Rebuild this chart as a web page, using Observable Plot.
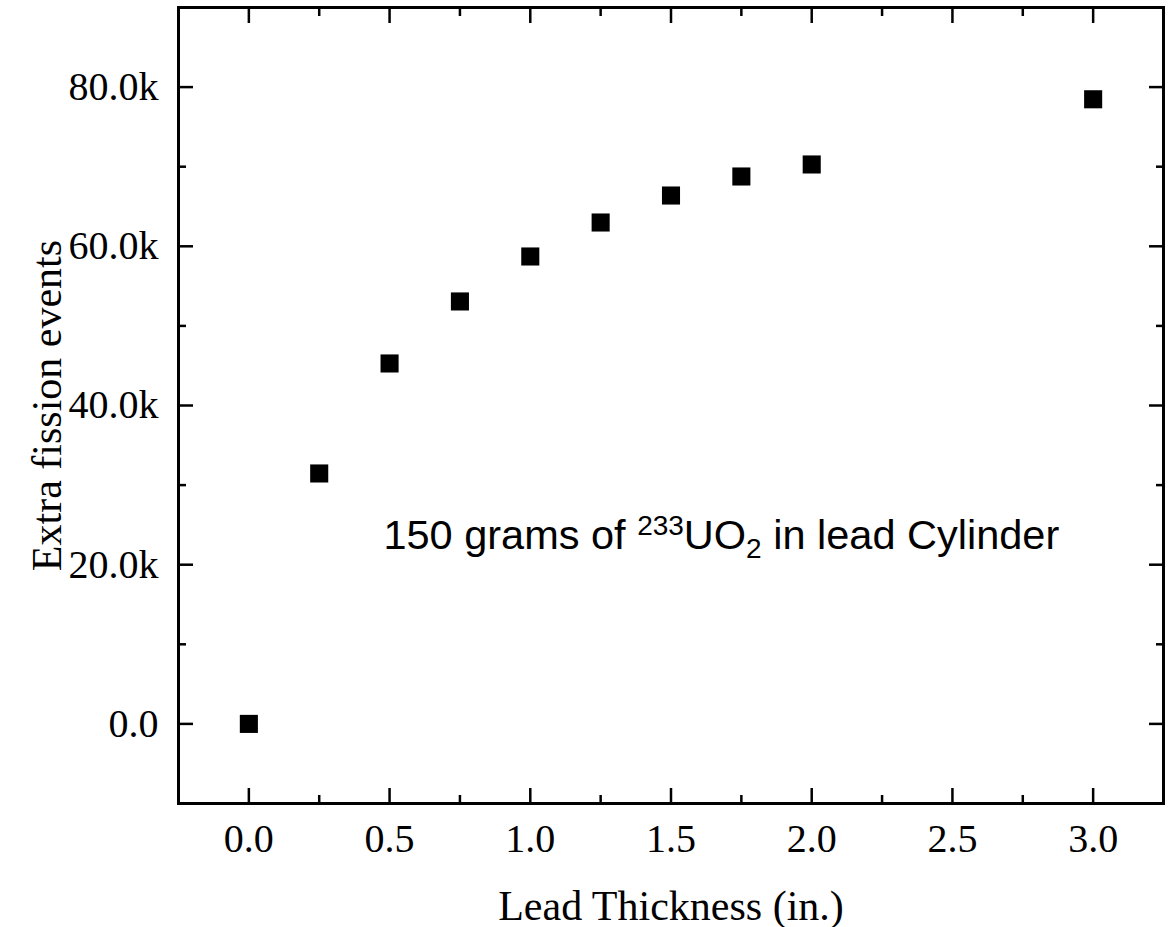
<!DOCTYPE html>
<html>
<head>
<meta charset="utf-8">
<script src="https://cdn.jsdelivr.net/npm/d3@7"></script>
<script src="https://cdn.jsdelivr.net/npm/@observablehq/plot@0.6"></script>
<style>
  html, body { margin: 0; padding: 0; background: #fff; }
</style>
</head>
<body>
<div id="chart"></div>
<script>
// Data
const thickness = [0, 0.25, 0.5, 0.75, 1.0, 1.25, 1.5, 1.75, 2.0, 3.0];
const fissions  = [0, 31460, 45280, 53070, 58720, 62990, 66380, 68770, 70280, 78470];

// Tick values
const xMajorTicks = [0, 0.5, 1.0, 1.5, 2.0, 2.5, 3.0];
const xMinorTicks = [0.25, 0.75, 1.25, 1.75, 2.25, 2.75];
const yMajorTicks = [0, 20000, 40000, 60000, 80000];
const yMinorTicks = [10000, 30000, 50000, 70000];

// Labels
const xLabel = "Lead Thickness (in.)";
const yLabel = "Extra fission events";

// Annotation (anchor in data units) and its pieces
const annotationX = [0.478];
const annotationY = [23700];
const annotationParts = ["150 grams of ", "233", "UO", "2", " in lead Cylinder"];
const annotationText = [annotationParts.join("")];

const points = thickness.map((t, i) => ({t, f: fissions[i]}));
const annotations = annotationX.map((x, i) => ({x, y: annotationY[i], text: annotationText[i]}));

const tickOnly = {tickFormat: () => "", label: null, stroke: "black", strokeWidth: 2.5};
const yFormat = d => d === 0 ? "0.0" : (d / 1000).toFixed(1) + "k";

const plot = Plot.plot({
  width: 1169,
  height: 927,
  marginLeft: 178,
  marginRight: 6,
  marginTop: 7,
  marginBottom: 124,
  style: {
    fontFamily: "'Liberation Serif', 'Times New Roman', serif",
    fontSize: "40px",
    background: "white",
    color: "black",
    overflow: "visible"
  },
  x: {domain: [-0.25, 3.25], axis: null, label: null},
  y: {domain: [-10000, 90000], axis: null, label: null},
  marks: [
    Plot.frame({stroke: "black", strokeWidth: 3}),
    // inward ticks, all four sides
    Plot.axisX(xMajorTicks, {anchor: "bottom", tickSize: -15, ...tickOnly}),
    Plot.axisX(xMinorTicks, {anchor: "bottom", tickSize: -8, ...tickOnly}),
    Plot.axisX(xMajorTicks, {anchor: "top", tickSize: -15, ...tickOnly}),
    Plot.axisX(xMinorTicks, {anchor: "top", tickSize: -8, ...tickOnly}),
    Plot.axisY(yMajorTicks, {anchor: "left", tickSize: -15, ...tickOnly}),
    Plot.axisY(yMinorTicks, {anchor: "left", tickSize: -8, ...tickOnly}),
    Plot.axisY(yMajorTicks, {anchor: "right", tickSize: -15, ...tickOnly}),
    Plot.axisY(yMinorTicks, {anchor: "right", tickSize: -8, ...tickOnly}),
    // tick labels
    Plot.axisX(xMajorTicks, {anchor: "bottom", tickSize: 0, tickPadding: 20, tickFormat: d => d.toFixed(1),
      fill: "black", label: null, fontSize: 40}),
    Plot.axisY(yMajorTicks, {anchor: "left", tickSize: 0, tickPadding: 20, tickFormat: yFormat,
      fill: "black", label: null, fontSize: 40}),
    // axis titles
    Plot.axisX([], {anchor: "bottom", tickSize: 0, label: xLabel, labelAnchor: "center", labelOffset: 116,
      labelArrow: "none", fontSize: 42, fill: "black"}),
    Plot.axisY([], {anchor: "left", tickSize: 0, label: yLabel, labelAnchor: "center", labelOffset: 147,
      labelArrow: "none", fontSize: 42, fill: "black"}),
    // data
    Plot.dot(points, {x: "t", y: "f", symbol: "square", r: 10.2, fill: "black", stroke: "none"}),
    // annotation
    Plot.text(annotations, {x: "x", y: "y", text: "text", textAnchor: "start",
      fontFamily: "'Liberation Sans', Arial, sans-serif", fontSize: 41.5, fill: "black"})
  ]
});

// Rebuild annotation with superscript / subscript
d3.select(plot).selectAll("text")
  .filter(function() { return this.textContent === annotationText[0]; })
  .each(function() {
    const t = d3.select(this);
    t.text(null);
    t.append("tspan").text(annotationParts[0]);
    t.append("tspan").attr("dy", -14).attr("font-size", 28).text(annotationParts[1]);
    t.append("tspan").attr("dy", 14).text(annotationParts[2]);
    t.append("tspan").attr("dy", 9).attr("font-size", 28).text(annotationParts[3]);
    t.append("tspan").attr("dy", -9).text(annotationParts[4]);
  });

document.getElementById("chart").appendChild(plot);
</script>
</body>
</html>
